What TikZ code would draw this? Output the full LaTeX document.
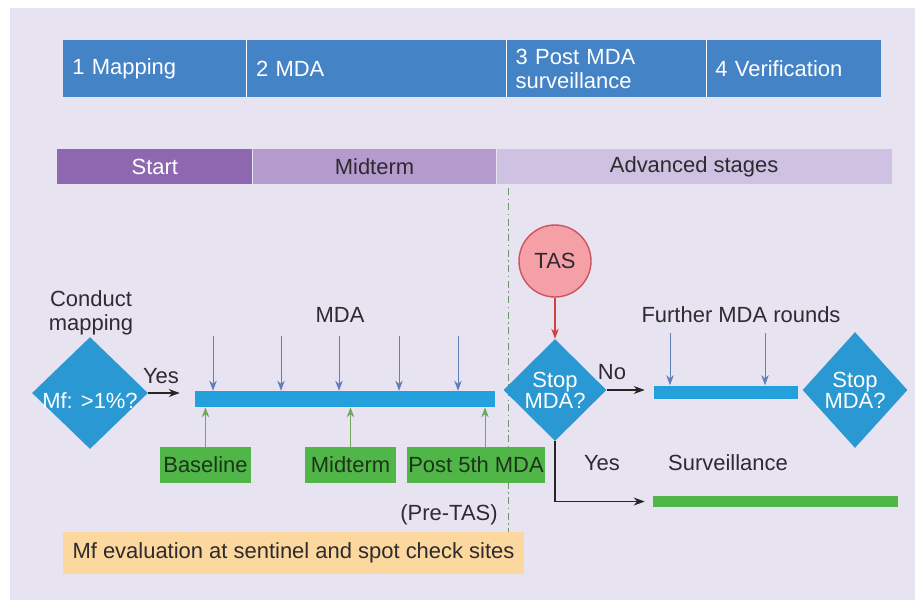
\documentclass[tikz,border=0pt]{standalone}
\usepackage{fontspec}
\setmainfont{Liberation Sans}
\usetikzlibrary{shapes.geometric, arrows.meta, calc}
\definecolor{bgcol}{RGB}{232,227,241}
\definecolor{phaseblue}{RGB}{68,131,197}
\definecolor{startpurple}{RGB}{141,104,176}
\definecolor{midpurple}{RGB}{181,154,206}
\definecolor{advpurple}{RGB}{207,193,226}
\definecolor{diamblue}{RGB}{42,152,211}
\definecolor{barblue}{RGB}{36,160,220}
\definecolor{dosecol}{RGB}{96,126,186}
\definecolor{boxgreen}{RGB}{80,182,72}
\definecolor{samplegreen}{RGB}{112,168,96}
\definecolor{darkgreen}{RGB}{28,52,28}
\definecolor{tasfill}{RGB}{244,160,166}
\definecolor{tasedge}{RGB}{204,84,94}
\definecolor{tasarrow}{RGB}{212,62,62}
\definecolor{evalorange}{RGB}{252,216,158}
\definecolor{txtgray}{RGB}{45,42,48}
\definecolor{splitgreen}{RGB}{108,150,108}
\tikzset{
  phase/.style={rectangle, fill=phaseblue, minimum height=1.14cm, anchor=north west,
      text=white, align=left, inner xsep=0.18cm, inner ysep=0pt},
  stage/.style={rectangle, minimum height=0.7cm, anchor=north west, text=txtgray, inner sep=0pt},
  decision/.style={diamond, aspect=1, fill=diamblue, text=white, align=center, inner sep=0pt,
      font=\fontsize{12.5}{12}\selectfont},
  roundbar/.style={rectangle, inner sep=0pt},
  evalbox/.style={rectangle, fill=boxgreen, text=darkgreen, minimum height=0.72cm, inner sep=0pt},
  lbl/.style={text=txtgray, align=center, inner sep=0pt},
  dose/.style={-{Stealth[length=2mm, width=1.5mm]}, draw=dosecol, fill=dosecol},
  sample/.style={-{Stealth[length=2mm, width=1.5mm]}, draw=samplegreen, fill=samplegreen},
  flow/.style={-{Stealth[length=2.2mm, width=1.6mm]}, semithick, draw=black!85},
}

\begin{document}
\begin{tikzpicture}[x=0.02cm, y=-0.02cm, font=\fontsize{12.5}{14}\selectfont]
  \useasboundingbox (0,0) rectangle (915,603);
  \fill[bgcol] (10,8) rectangle (915,600);
  % programme phases
  \node[phase, text width=3.3cm] (ph1) at (63,40) {1 Mapping};
  \node[phase, text width=4.82cm] (ph2) at (ph1.north east) {2 MDA};
  \node[phase, text width=3.62cm] (ph3) at (ph2.north east) {3 Post MDA\\surveillance};
  \node[phase, text width=3.14cm] (ph4) at (ph3.north east) {4 Verification};
  \foreach \p in {ph1,ph2,ph3}
    \draw[white, thin] (\p.north east) -- (\p.south east);
  % stages
  \node[stage, fill=startpurple, text=white, minimum width=3.9cm] (st1) at (57,149) {Start};
  \node[stage, fill=midpurple, minimum width=4.86cm] (st2) at (st1.north east) {Midterm};
  \node[stage, fill=advpurple, minimum width=7.9cm] (st3) at (st2.north east) {Advanced stages};
  % split line
  \coordinate (splittop) at (508,188);
  \coordinate (splitbot) at (508,532);
  \draw[splitgreen, dash pattern=on 4pt off 2pt on 0.8pt off 2pt] (splittop) -- (splitbot);
  % mapping
  \node[lbl] (conduct) at (91,313) {Conduct\\mapping};
  \node[decision, minimum width=2.32cm, minimum height=2.24cm] (mf) at (90,393) {\raisebox{-0.16cm}[0.3cm][0cm]{Mf: >1\%?}};
  \node[roundbar, fill=barblue, minimum width=6cm, minimum height=0.32cm] (mdabar) at (345,399) {};
  \draw[flow, shorten >=0.3cm] (mf.east) -- (mdabar.west |- mf.east);
  \node[lbl] (yes1) at (161,376) {Yes};
  \node[lbl] (mdalbl) at (340,315) {MDA};
  \foreach \x in {213,281,339,399,458}
    \draw[dose] (\x,336) -- (\x,0 |- mdabar.north);
  % sampling points
  \node[evalbox, minimum width=1.82cm] (base) at (205.5,465) {Baseline};
  \node[evalbox, minimum width=1.82cm] (mid) at (350.5,465) {Midterm};
  \node[evalbox, minimum width=2.76cm] (post) at (476,465) {Post 5th MDA};
  \draw[sample] (base.north) -- (base.north |- mdabar.south);
  \draw[sample] (mid.north) -- (mid.north |- mdabar.south);
  \draw[sample] ($(post.north)+(9,0)$) -- ($(post.north |- mdabar.south)+(9,0)$);
  \node[lbl] (pretas) at (449,515) {(Pre-TAS)};
  \node[rectangle, fill=evalorange, text=txtgray, minimum width=9.22cm, inner sep=0pt,
      minimum height=0.84cm] (evalsites) at (293.5,553) {Mf evaluation at sentinel and spot check sites};
  % TAS decision
  \node[circle, fill=tasfill, draw=tasedge, thick, minimum size=1.44cm, inner sep=0pt, text=txtgray] (tas) at (555,261) {TAS};
  \node[decision, minimum width=2.06cm, minimum height=2.04cm] (stop1) at (555,390) {Stop\\MDA?};
  \draw[-{Stealth[length=2mm, width=1.5mm]}, semithick, tasarrow] (tas.south) -- (stop1.north);
  % further rounds
  \node[roundbar, fill=barblue, minimum width=2.88cm, minimum height=0.26cm] (furtherbar) at (726,392) {};
  \draw[flow, shorten >=0.18cm] (stop1.east) -- (furtherbar.west |- stop1.east);
  \node[lbl] (nolbl) at (612,372) {No};
  \node[lbl] (furtherlbl) at (741,315) {Further MDA rounds};
  \foreach \x in {670,765}
    \draw[dose] (\x,333) -- (\x,0 |- furtherbar.north);
  \node[decision, minimum width=2.1cm, minimum height=2.32cm] (stop2) at (855,390) {Stop\\MDA?};
  % surveillance
  \node[roundbar, fill=boxgreen, minimum width=4.9cm, minimum height=0.22cm] (survbar) at (775.5,501.5) {};
  \draw[flow, shorten >=0.16cm] (stop1.south) |- (survbar.west);
  \node[lbl] (yes2) at (602,463) {Yes};
  \node[lbl] (survlbl) at (728,463) {Surveillance};
\end{tikzpicture}
\end{document}
